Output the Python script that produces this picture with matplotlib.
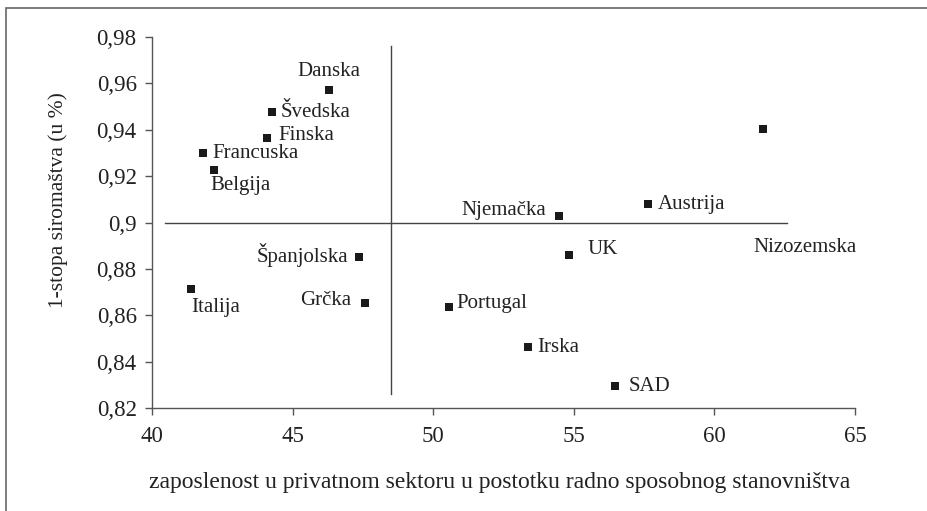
import numpy as np
import matplotlib
matplotlib.use('Agg')
import matplotlib.pyplot as plt
from matplotlib.ticker import FuncFormatter, MultipleLocator
from matplotlib.patches import Rectangle

plt.rcParams['font.family'] = 'serif'
plt.rcParams['font.serif'] = ['Liberation Serif', 'Nimbus Roman', 'Times New Roman', 'DejaVu Serif']

# data
countries = ['Danska', 'Švedska', 'Finska', 'Francuska', 'Belgija',
             'Španjolska', 'Italija', 'Grčka', 'Portugal', 'Nizozemska',
             'Njemačka', 'Austrija', 'UK', 'Irska', 'SAD']
employment = [46.29, 44.26, 44.10, 41.81, 42.22,
              47.36, 41.38, 47.57, 50.57, 61.72,
              54.46, 57.63, 54.83, 53.36, 56.46]
poverty = [0.957, 0.9475, 0.9364, 0.9298, 0.9226,
           0.8851, 0.8713, 0.8652, 0.8634, 0.9405,
           0.9028, 0.9079, 0.886, 0.8462, 0.8294]

# crosshair (means)
x_mean = 48.5
y_mean = 0.9

# label placement: offset in pixels from the marker and alignment
label_pos = {
    'Danska': (0, 19, 'center'), 'Švedska': (9, 0, 'left'),
    'Finska': (11, 3, 'left'), 'Francuska': (9, 0, 'left'),
    'Belgija': (-4, -15, 'left'), 'Španjolska': (-11, 2, 'right'),
    'Italija': (0, -18, 'left'), 'Grčka': (-14, 3, 'right'),
    'Portugal': (7, 4, 'left'), 'Nizozemska': (42, -119, 'center'),
    'Njemačka': (-12, 6, 'right'), 'Austrija': (10, 0, 'left'),
    'UK': (18, 5, 'left'), 'Irska': (10, 0, 'left'), 'SAD': (14, 0, 'left'),
}

fig = plt.figure(figsize=(9.28, 5.11), dpi=100)
ax = fig.add_axes([152/928, 1-408/511, 703/928, 371/511])

ax.plot([x_mean, x_mean], [0.826, 0.976], color='#444444', lw=1.0)
ax.plot([40.46, 62.57], [y_mean, y_mean], color='#444444', lw=1.0)

ax.scatter(employment, poverty, marker='s', s=30, color='#1a1a1a', zorder=3, linewidths=0)

for name, x, y in zip(countries, employment, poverty):
    dx, dy, ha = label_pos[name]
    ax.annotate(name, (x, y), xytext=(dx*0.72, dy*0.72), textcoords='offset points',
                ha=ha, va='center', fontsize=15, color='#222222')

ax.set_xlim(40, 65)
ax.set_ylim(0.82, 0.98)
ax.xaxis.set_major_locator(MultipleLocator(5))
ax.yaxis.set_major_locator(MultipleLocator(0.02))
ax.yaxis.set_major_formatter(FuncFormatter(lambda v, p: f'{round(v, 2):g}'.replace('.', ',')))
ax.tick_params(labelsize=16.5, length=5, width=1, color='#555555', labelcolor='#222222')
ax.tick_params(axis='x', pad=8)
ax.tick_params(axis='y', pad=6)
for s in ['top', 'right']:
    ax.spines[s].set_visible(False)
for s in ['left', 'bottom']:
    ax.spines[s].set_color('#555555')
    ax.spines[s].set_linewidth(1)

ax.set_xlabel('zaposlenost u privatnom sektoru u postotku radno sposobnog stanovništva',
              fontsize=17, color='#222222', va='center')
ax.xaxis.set_label_coords(0.494, -0.202)
ax.set_ylabel('1-stopa siromaštva (u %)', fontsize=15.5, color='#222222', va='center')
ax.yaxis.set_label_coords(-0.134, 0.561)

fig.patches.append(Rectangle((6/928, -0.05), 1.1, 1 - 8/511 + 0.05, transform=fig.transFigure,
                             fill=False, edgecolor='#666666', lw=1.2))

fig.savefig('out.png', dpi=100)
